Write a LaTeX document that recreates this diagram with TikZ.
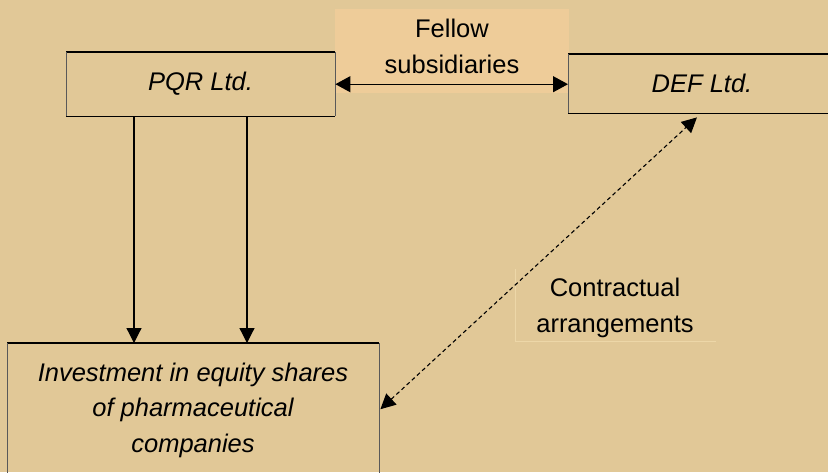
\documentclass[tikz,border=0pt]{standalone}
\usepackage{fontspec}
\setmainfont{Liberation Sans}
\usetikzlibrary{arrows.meta,calc}
\definecolor{bg}{HTML}{E1C897}
\definecolor{fellowbg}{HTML}{EECC99}
\definecolor{faint}{HTML}{EDD7A8}
\begin{document}
\begin{tikzpicture}[x=1pt,y=-1pt,
  box/.style={draw=none,inner sep=0pt,anchor=north west},
  hedge/.style={line width=1.3pt,draw=black},
  sedge/.style={line width=0.8pt,draw=black!65},
  fedge/.style={line width=1pt,draw=faint},
  lbl/.style={anchor=base,inner sep=0pt,align=center,font=\fontsize{25.5}{35.5}\selectfont},
  arr/.style={line width=1.2pt,-{Triangle[length=15pt,width=15pt]}},
  darr/.style={line width=1.1pt,dash pattern=on 4pt off 3pt,{Triangle[length=15pt,width=15pt]}-{Triangle[length=15pt,width=15pt]}}
]
\fill[bg] (0,0) rectangle (828,472);
\useasboundingbox (0,0) rectangle (828,472);

% boxes
\node[box,minimum width=234pt,minimum height=84pt,fill=fellowbg] (fel) at (335,9) {};
\node[box,minimum width=269pt,minimum height=64pt] (pqr) at (66,52) {};
\node[box,minimum width=268pt,minimum height=59pt] (def) at (568,54) {};
\node[box,minimum width=372pt,minimum height=132pt] (inv) at (7,343) {};
\node[box,minimum width=201pt,minimum height=72pt] (con) at (515,269) {};

% box edges
\draw[hedge] (pqr.north west) -- (pqr.north east);
\draw[hedge] (pqr.south west) -- (pqr.south east);
\draw[sedge] (pqr.north west) -- (pqr.south west);
\draw[sedge] (pqr.north east) -- (pqr.south east);
\draw[hedge] (def.north west) -- (def.north east);
\draw[hedge] (def.south west) -- (def.south east);
\draw[sedge] (def.north west) -- (def.south west);
\draw[hedge] (inv.north west) -- (inv.north east);
\draw[sedge] (inv.north west) -- (inv.south west);
\draw[sedge] (inv.north east) -- (inv.south east);
\draw[fedge] (con.north west) -- (con.south west) -- (con.south east);

% texts (base anchor = baseline of last line)
\node[lbl] (tpqr) at (200.5,90) {\itshape PQR Ltd.};
\node[lbl] (tdef) at (702,92) {\itshape DEF Ltd.};
\node[lbl] (tfel) at (452,73) {Fellow\\subsidiaries};
\node[lbl] (tcon) at (615,332) {Contractual\\arrangements};
\node[lbl] (tinv) at (193,452) {\itshape Investment in equity shares\\\itshape of pharmaceutical\\\itshape companies};

% connectors
\draw[arr,{Triangle[length=15pt,width=16pt]}-{Triangle[length=15pt,width=16pt]}] (pqr.east) -- (pqr.east -| def.west);
\coordinate (l1) at ($(pqr.south west)+(68,0)$);
\coordinate (l2) at ($(pqr.south west)+(181,0)$);
\draw[arr] (l1) -- (l1 |- inv.north);
\draw[arr] (l2) -- (l2 |- inv.north);
\coordinate (d1) at ($(def.south west)+(133.3,0)$);
\coordinate (d0) at ($(inv.east)+(1,0)$);
\draw[darr,shorten >=5.9pt] (d0) -- (d1);
\end{tikzpicture}
\end{document}
